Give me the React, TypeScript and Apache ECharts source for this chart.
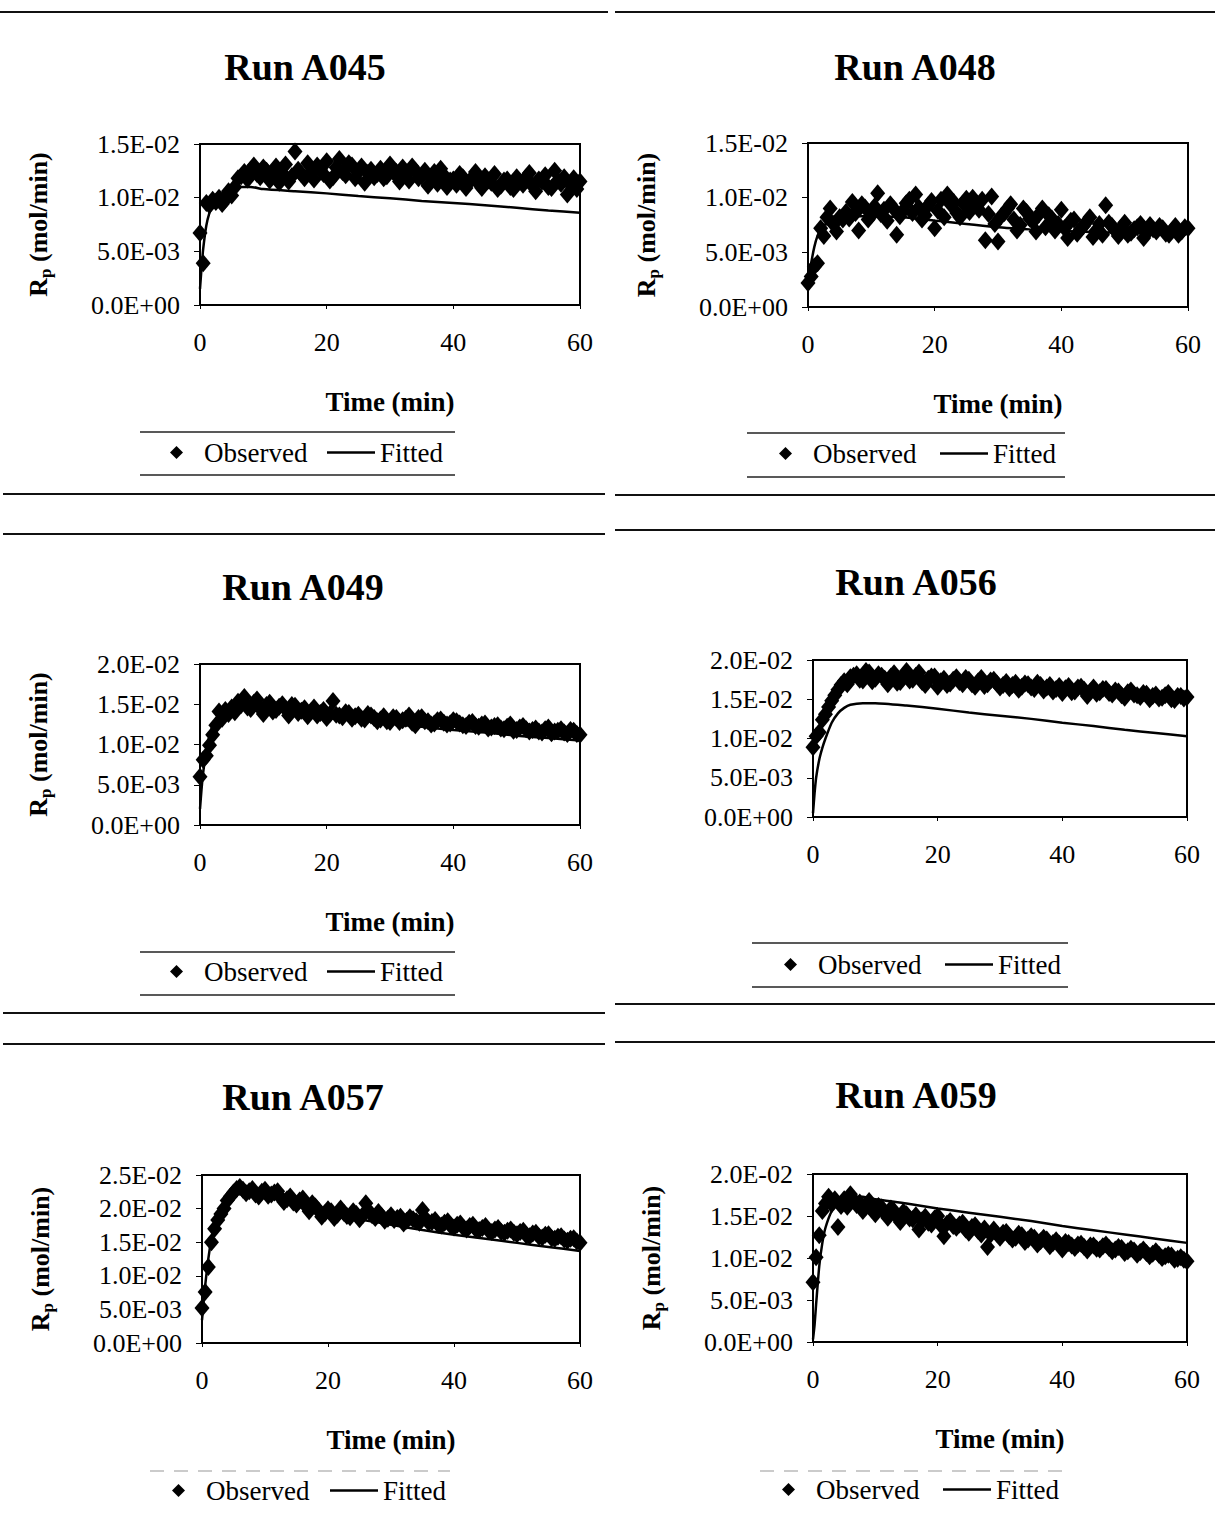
import React, { useEffect, useRef } from "react";
import * as echarts from "echarts";

// Observation times (min), shared by all runs
const obsTimes = [
  0, 0.5, 1, 1.5, 2, 2.5, 3, 3.5, 4, 4.5, 5, 5.5,
  6, 7, 8, 9, 10, 11, 12, 13, 14, 15,
  16, 17, 18, 19, 20, 21, 22, 23, 24, 25,
  26, 27, 28, 29, 30, 31, 32, 33, 34, 35,
  36, 37, 38, 39, 40, 41, 42, 43, 44, 45,
  46, 47, 48, 49, 50, 51, 52, 53, 54, 55,
  56, 57, 58, 59, 60,
];
// Intermediate observation times (min)
const midTimes = [
  6.5, 7.5, 8.5, 9.5, 10.5, 11.5, 12.5, 13.5, 14.5, 15.5,
  16.5, 17.5, 18.5, 19.5, 20.5, 21.5, 22.5, 23.5, 24.5, 25.5,
  26.5, 27.5, 28.5, 29.5, 30.5, 31.5, 32.5, 33.5, 34.5, 35.5,
  36.5, 37.5, 38.5, 39.5, 40.5, 41.5, 42.5, 43.5, 44.5, 45.5,
  46.5, 47.5, 48.5, 49.5, 50.5, 51.5, 52.5, 53.5, 54.5, 55.5,
  56.5, 57.5, 58.5, 59.5,
];

// Observed Rp, in units of 1e-3 mol/min
const obsA045 = [
  6.7, 3.9, 9.5, 9.3, 9.8, 9.6, 10.0, 9.4, 9.8, 10.6, 10.2, 11.0,
  11.8, 12.4, 12.6, 12.2, 12.8, 11.6, 12.9, 12.3, 11.5, 14.3,
  12.2, 13.2, 11.7, 12.6, 13.4, 11.9, 13.6, 12.1, 13.0, 12.4,
  11.4, 12.6, 12.2, 11.8, 13.1, 12.4, 12.8, 11.6, 12.5, 12.0,
  11.1, 12.4, 12.7, 11.0, 11.7, 12.2, 10.9, 11.8, 11.3, 12.0,
  11.4, 10.8, 11.6, 11.0, 11.9, 11.2, 12.3, 10.6, 11.5, 11.0,
  12.5, 11.3, 10.3, 11.8, 11.5,
];
const midA045 = [
  12.0, 11.7, 13.0, 11.9, 12.5, 12.1, 11.4, 13.1, 12.0, 12.6,
  11.8, 12.4, 13.0, 12.2, 11.6, 12.8, 12.4, 13.2, 11.8, 12.9,
  12.3, 11.9, 12.7, 12.0, 12.4, 11.5, 12.2, 12.9, 11.8, 12.5,
  11.9, 11.3, 12.1, 11.6, 11.2, 11.9, 11.5, 12.4, 10.9, 11.6,
  12.2, 11.1, 11.7, 10.8, 11.5, 11.9, 11.1, 11.7, 12.1, 10.9,
  11.6, 11.9, 11.2, 10.8,
];
const obsA048 = [
  2.2, 2.8, 3.7, 4.0, 7.2, 6.5, 8.2, 9.0, 7.6, 6.9, 8.2, 8.0,
  8.7, 9.6, 7.0, 9.1, 8.4, 10.4, 8.9, 9.4, 6.6, 8.8,
  9.8, 10.3, 8.0, 9.3, 7.2, 9.8, 10.3, 9.6, 8.2, 9.9,
  10.0, 8.9, 6.1, 10.1, 6.0, 8.6, 9.4, 7.0, 9.0, 8.1,
  6.9, 9.0, 8.4, 7.0, 8.9, 6.3, 8.0, 7.1, 7.8, 6.4,
  7.6, 9.3, 7.4, 6.5, 7.7, 6.8, 7.3, 6.3, 7.5, 6.9,
  7.2, 6.6, 7.4, 6.9, 7.2,
];
const midA048 = [
  8.1, 8.6, 9.4, 8.0, 9.2, 8.5, 7.9, 9.0, 8.3, 9.5,
  8.6, 9.1, 8.4, 9.7, 8.8, 8.2, 9.4, 8.6, 9.5, 8.7,
  9.3, 9.8, 8.5, 7.6, 8.3, 9.0, 8.0, 7.5, 8.7, 7.8,
  8.5, 7.3, 8.1, 7.6, 7.2, 7.9, 6.7, 7.4, 8.2, 7.0,
  6.6, 7.7, 7.0, 7.3, 6.6, 7.1, 7.6, 6.8, 7.1, 7.4,
  6.7, 7.0, 6.6, 7.3,
];
const obsA049 = [
  6.0, 8.1, 8.6, 9.9, 11.2, 12.4, 14.1, 13.2, 14.3, 13.8, 14.6, 14.0,
  15.3, 15.9, 14.4, 15.6, 13.8, 15.2, 14.3, 15.0, 13.6, 14.8,
  14.2, 13.5, 14.6, 13.9, 13.3, 15.4, 13.6, 14.0, 13.2, 13.7,
  13.1, 13.6, 12.9, 13.5, 12.8, 13.3, 13.0, 13.6, 12.4, 13.4,
  12.9, 12.6, 13.1, 12.5, 13.0, 12.6, 12.3, 12.8, 12.2, 12.6,
  12.1, 12.4, 11.9, 12.5, 11.8, 12.3, 11.6, 12.0, 11.5, 12.1,
  11.6, 11.9, 11.3, 11.7, 11.2,
];
const midA049 = [
  14.9, 14.6, 15.2, 14.5, 14.9, 14.1, 14.7, 14.4, 14.9, 13.9,
  14.5, 14.1, 13.6, 14.3, 13.8, 13.7, 13.4, 13.9, 13.5, 13.2,
  13.8, 13.3, 13.1, 12.9, 13.4, 12.8, 13.2, 12.7, 13.3, 12.9,
  12.5, 13.0, 12.7, 12.6, 12.9, 12.4, 12.7, 12.3, 12.5, 12.0,
  12.3, 12.0, 12.2, 11.7, 12.1, 11.9, 11.8, 11.6, 11.9, 11.4,
  11.7, 11.5, 11.8, 11.3,
];
const obsA056 = [
  8.9, 10.3, 10.8, 12.4, 13.1, 14.0, 14.8, 15.5, 16.2, 16.8, 17.3, 16.9,
  17.8, 18.2, 17.4, 18.4, 17.6, 18.0, 16.9, 18.3, 17.2, 18.6,
  17.5, 18.4, 16.8, 17.9, 16.6, 17.6, 17.0, 17.8, 16.9, 17.5,
  16.6, 17.7, 16.9, 17.5, 16.5, 17.2, 16.8, 16.2, 17.0, 16.5,
  17.1, 16.1, 16.8, 16.3, 15.8, 16.7, 16.0, 16.6, 15.4, 16.5,
  15.9, 16.3, 15.6, 16.0, 15.2, 16.1, 15.5, 15.8, 15.0, 15.6,
  15.2, 15.8, 14.9, 15.4, 15.3,
];
const midA056 = [
  18.0, 17.5, 18.6, 17.3, 18.2, 17.6, 17.9, 17.1, 17.8, 17.4,
  18.0, 17.2, 17.6, 17.9, 17.3, 16.8, 17.5, 17.2, 17.7, 16.9,
  17.3, 16.7, 17.4, 17.0, 16.8, 16.4, 17.1, 16.6, 16.9, 16.3,
  16.8, 16.5, 16.0, 16.7, 16.4, 15.9, 16.5, 16.2, 16.0, 15.7,
  16.3, 15.8, 16.1, 15.5, 15.9, 15.6, 15.3, 15.7, 15.4, 15.1,
  15.5, 15.0, 15.4, 15.1,
];
const obsA057 = [
  5.2, 7.6, 11.3, 15.0, 17.0, 18.3, 19.2, 20.0, 21.2, 21.8, 22.4, 22.9,
  23.2, 22.3, 22.9, 21.8, 22.8, 22.1, 22.6, 21.0, 21.8, 20.6,
  21.5, 19.6, 20.3, 18.8, 19.9, 18.6, 20.0, 18.9, 19.6, 18.4,
  20.8, 19.0, 19.5, 18.2, 19.0, 18.6, 17.8, 18.7, 18.1, 19.8,
  17.9, 18.3, 17.5, 18.1, 17.2, 17.8, 16.9, 17.6, 16.8, 17.4,
  16.5, 17.1, 16.4, 16.9, 16.2, 16.7, 15.9, 16.4, 15.7, 16.2,
  15.5, 15.9, 15.2, 15.6, 14.9,
];
const midA057 = [
  22.8, 22.6, 22.1, 22.5, 21.9, 22.4, 21.6, 21.4, 20.9, 21.2,
  20.4, 20.8, 19.7, 19.3, 19.6, 19.1, 19.4, 18.7, 19.2, 19.0,
  19.6, 18.6, 18.9, 18.5, 18.3, 18.8, 18.2, 18.4, 17.9, 18.5,
  18.0, 17.6, 17.9, 17.4, 17.6, 17.1, 17.4, 16.9, 17.1, 16.7,
  16.9, 16.5, 16.7, 16.4, 16.5, 16.0, 16.3, 15.8, 16.1, 15.6,
  15.8, 15.4, 15.5, 15.1,
];
const obsA059 = [
  7.1, 10.1, 12.7, 15.6, 16.5, 17.3, 16.4, 17.0, 13.7, 16.2, 17.0, 16.1,
  17.6, 16.3, 15.6, 16.8, 15.2, 16.0, 14.8, 15.6, 14.3, 15.2,
  14.6, 13.4, 14.9, 14.0, 15.0, 12.6, 14.4, 13.6, 14.2, 13.0,
  13.9, 12.8, 11.3, 13.4, 12.4, 13.1, 12.2, 12.9, 11.9, 12.6,
  11.6, 12.4, 11.4, 12.1, 11.0, 11.8, 11.2, 11.7, 10.9, 11.5,
  11.0, 11.6, 10.8, 11.3, 10.6, 11.1, 10.4, 11.0, 10.2, 10.8,
  10.0, 10.4, 9.8, 10.1, 9.6,
];
const midA059 = [
  16.9, 16.6, 16.1, 15.7, 16.2, 15.4, 15.9, 14.9, 15.5, 14.7,
  15.1, 14.5, 14.2, 14.7, 13.9, 14.1, 13.8, 14.0, 13.4, 13.7,
  13.2, 13.5, 12.8, 12.9, 13.0, 12.6, 12.4, 12.7, 12.2, 12.4,
  12.0, 12.2, 11.8, 11.7, 11.9, 11.5, 11.6, 11.3, 11.5, 11.1,
  11.4, 11.2, 11.0, 11.2, 10.8, 10.9, 10.7, 10.6, 10.5, 10.4,
  10.2, 10.3, 9.9, 9.8,
];

// Fitted curves, same units
const fitTimes = [0, 0.25, 0.5, 1, 1.5, 2, 3, 4, 5, 6, 8, 10, 15, 20, 25, 30, 35, 40, 45, 50, 55, 60];
const fitA045 = [1.5, 3.5, 5.2, 7.4, 8.6, 9.3, 10.1, 10.6, 10.9, 11.0, 11.0, 10.8, 10.6, 10.4, 10.15, 9.95, 9.7, 9.5, 9.3, 9.05, 8.8, 8.6];
const fitA048 = [1.8, 3.0, 4.0, 5.5, 6.5, 7.1, 7.7, 8.0, 8.1, 8.2, 8.3, 8.3, 8.2, 7.9, 7.6, 7.3, 7.1, 6.95, 6.85, 6.8, 6.75, 6.75];
const fitA049 = [2.0, 4.5, 6.5, 9.3, 11.1, 12.3, 13.6, 14.3, 14.6, 14.7, 14.7, 14.5, 14.0, 13.5, 13.0, 12.6, 12.2, 11.8, 11.5, 11.1, 10.8, 10.5];
const fitA056 = [0.5, 3.0, 5.0, 7.3, 8.8, 10.0, 12.0, 13.2, 13.9, 14.3, 14.5, 14.5, 14.2, 13.8, 13.3, 12.9, 12.5, 12.0, 11.6, 11.1, 10.7, 10.3];
const fitA057 = [3.4, 6.0, 8.5, 12.5, 15.5, 17.5, 19.8, 21.2, 22.0, 22.4, 22.4, 22.0, 20.6, 19.4, 18.4, 17.6, 16.8, 16.1, 15.5, 14.9, 14.3, 13.7];
const fitA059 = [0.3, 2.0, 4.5, 9.0, 11.8, 13.6, 15.6, 16.6, 17.1, 17.3, 17.3, 17.0, 16.5, 15.9, 15.4, 14.9, 14.4, 13.8, 13.3, 12.8, 12.3, 11.8];

const runNames = ["Run A045", "Run A048", "Run A049", "Run A056", "Run A057", "Run A059"];
const yMaxes = [15, 15, 20, 20, 25, 20];
const xTicks = [0, 20, 40, 60];

const FONT = '"Liberation Serif", "Times New Roman", serif';

// Layout (positions only)
const layouts = [
  { grid: { left: 200, top: 144, width: 380, height: 161 }, title: [305, 67], yName: true, xName: true, leg: { y: 434, obs: 165, fit: 322 }, box: { x1: 140, x2: 455, y1: 432, y2: 475, faint: false } },
  { grid: { left: 808, top: 143, width: 380, height: 164 }, title: [915, 67], yName: true, xName: true, leg: { y: 435, obs: 774, fit: 935 }, box: { x1: 747, x2: 1065, y1: 433, y2: 477, faint: false } },
  { grid: { left: 200, top: 664, width: 380, height: 161 }, title: [303, 587], yName: true, xName: true, leg: { y: 953, obs: 165, fit: 322 }, box: { x1: 140, x2: 455, y1: 952, y2: 995, faint: false } },
  { grid: { left: 813, top: 660, width: 374, height: 157 }, title: [916, 582], yName: false, xName: false, leg: { y: 946, obs: 779, fit: 940 }, box: { x1: 752, x2: 1068, y1: 943, y2: 987, faint: false } },
  { grid: { left: 202, top: 1175, width: 378, height: 168 }, title: [303, 1097], yName: true, xName: true, leg: { y: 1472, obs: 167, fit: 325 }, box: { x1: 150, x2: 450, y1: 1471, y2: 0, faint: true } },
  { grid: { left: 813, top: 1174, width: 374, height: 168 }, title: [916, 1095], yName: true, xName: true, leg: { y: 1471, obs: 777, fit: 938 }, box: { x1: 760, x2: 1062, y1: 1471, y2: 0, faint: true } },
];

const obsSets = [obsA045, obsA048, obsA049, obsA056, obsA057, obsA059];
const midSets = [midA045, midA048, midA049, midA056, midA057, midA059];
const fitSets = [fitA045, fitA048, fitA049, fitA056, fitA057, fitA059];

function sci(v: number): string {
  if (v === 0) return "0.0E+00";
  const x = v * 1e-3;
  const e = Math.floor(Math.log10(x) + 1e-9);
  const m = x / Math.pow(10, e);
  const s = e < 0 ? "-" : "+";
  const a = Math.abs(e);
  return m.toFixed(1) + "E" + s + (a < 10 ? "0" + a : "" + a);
}

export default function App() {
  const ref = useRef<HTMLDivElement>(null);
  useEffect(() => {
    if (!ref.current) return;
    const chart = echarts.init(ref.current, undefined, { renderer: "svg" });

    const grids: any[] = [];
    const xAxes: any[] = [];
    const yAxes: any[] = [];
    const series: any[] = [];
    const legends: any[] = [];
    const graphics: any[] = [];

    layouts.forEach((L, i) => {
      grids.push({ ...L.grid, show: true, borderColor: "#000", borderWidth: 2, backgroundColor: "#fff", containLabel: false });
      xAxes.push({
        type: "value", gridIndex: i, min: 0, max: 60, interval: 20,
        axisLine: { show: true, onZero: false, lineStyle: { color: "#000", width: 2 } },
        axisTick: { show: true, length: 4, lineStyle: { color: "#000" } },
        splitLine: { show: false },
        axisLabel: { fontSize: 26, fontFamily: FONT, color: "#000", margin: 24, customValues: xTicks },
        name: L.xName ? "Time (min)" : "",
        nameLocation: "middle",
        nameGap: 83,
        nameTextStyle: { fontSize: 27, fontWeight: "bold", fontFamily: FONT, color: "#000" },
      });
      yAxes.push({
        type: "value", gridIndex: i, min: 0, max: yMaxes[i], interval: 5,
        axisLine: { show: true, onZero: false, lineStyle: { color: "#000", width: 2 } },
        axisTick: { show: true, length: 6, lineStyle: { color: "#000" } },
        splitLine: { show: false },
        axisLabel: { fontSize: 26, fontFamily: FONT, color: "#000", margin: 20, formatter: (v: number) => sci(v) },
        name: L.yName ? "{r|R}{s|p}{r| (mol/min)}" : "",
        nameLocation: "middle",
        nameRotate: 90,
        nameGap: 146,
        nameTextStyle: {
          rich: {
            r: { fontSize: 26, fontWeight: "bold", fontFamily: FONT, color: "#000" },
            s: { fontSize: 17, fontWeight: "bold", fontFamily: FONT, color: "#000", padding: [14, 0, 0, 0] },
          },
        },
      });
      const pts = obsTimes.map((t, k) => [t, obsSets[i][k]]).concat(midTimes.map((t, k) => [t, midSets[i][k]]));
      series.push({
        name: "Observed", type: "scatter", xAxisIndex: i, yAxisIndex: i,
        symbol: "diamond", symbolSize: [15, 18],
        itemStyle: { color: "#000", opacity: 1 },
        data: pts,
        z: 2,
      });
      series.push({
        name: "Fitted", type: "line", xAxisIndex: i, yAxisIndex: i,
        symbol: "none", smooth: 0.2,
        lineStyle: { color: "#000", width: 2.5 },
        itemStyle: { color: "#000" },
        data: fitTimes.map((t, k) => [t, fitSets[i][k]]),
        z: 3,
      });
      legends.push({
        left: L.leg.obs, top: L.leg.y, data: [{ name: "Observed", icon: "diamond" }],
        itemWidth: 13, itemHeight: 13, selectedMode: false,
        textStyle: { fontSize: 27, fontFamily: FONT, color: "#000", padding: [0, 0, 0, 16] },
      });
      legends.push({
        left: L.leg.fit, top: L.leg.y, data: [{ name: "Fitted", icon: "rect" }],
        itemWidth: 48, itemHeight: 2.5, selectedMode: false,
        itemStyle: { color: "#000" },
        textStyle: { fontSize: 27, fontFamily: FONT, color: "#000" },
      });
      graphics.push({
        type: "text", x: L.title[0], y: L.title[1],
        style: {
          text: runNames[i], fontSize: 38, fontWeight: "bold", fontFamily: FONT, fill: "#000",
          align: "center", verticalAlign: "middle", textAlign: "center", textVerticalAlign: "middle",
        },
      });
      const B = L.box;
      if (B.faint) {
        graphics.push({ type: "line", shape: { x1: B.x1, y1: B.y1, x2: B.x2, y2: B.y1 }, style: { stroke: "#bbb", lineWidth: 1.5, lineDash: [14, 10] } });
      } else {
        graphics.push({ type: "line", shape: { x1: B.x1, y1: B.y1, x2: B.x2, y2: B.y1 }, style: { stroke: "#222", lineWidth: 1.5 } });
        graphics.push({ type: "line", shape: { x1: B.x1, y1: B.y2, x2: B.x2, y2: B.y2 }, style: { stroke: "#222", lineWidth: 1.5 } });
      }
    });

    const seps = [
      [0, 12, 608, 12], [615, 12, 1215, 12],
      [3, 494, 605, 494], [615, 495, 1215, 495],
      [3, 534, 605, 534], [615, 530, 1215, 530],
      [3, 1013, 605, 1013], [615, 1004, 1215, 1004],
      [3, 1044, 605, 1044], [615, 1042, 1215, 1042],
    ];
    seps.forEach((s) => {
      graphics.push({ type: "line", shape: { x1: s[0], y1: s[1], x2: s[2], y2: s[3] }, style: { stroke: "#111", lineWidth: 2 } });
    });

    chart.setOption({
      animation: false,
      backgroundColor: "#fff",
      grid: grids,
      xAxis: xAxes,
      yAxis: yAxes,
      series,
      legend: legends,
      graphic: graphics,
    });
    return () => chart.dispose();
  }, []);
  return (
    <div
      ref={ref}
      style={{ position: "absolute", left: 0, top: 0, width: 1215, height: 1513, background: "#fff" }}
    />
  );
}
